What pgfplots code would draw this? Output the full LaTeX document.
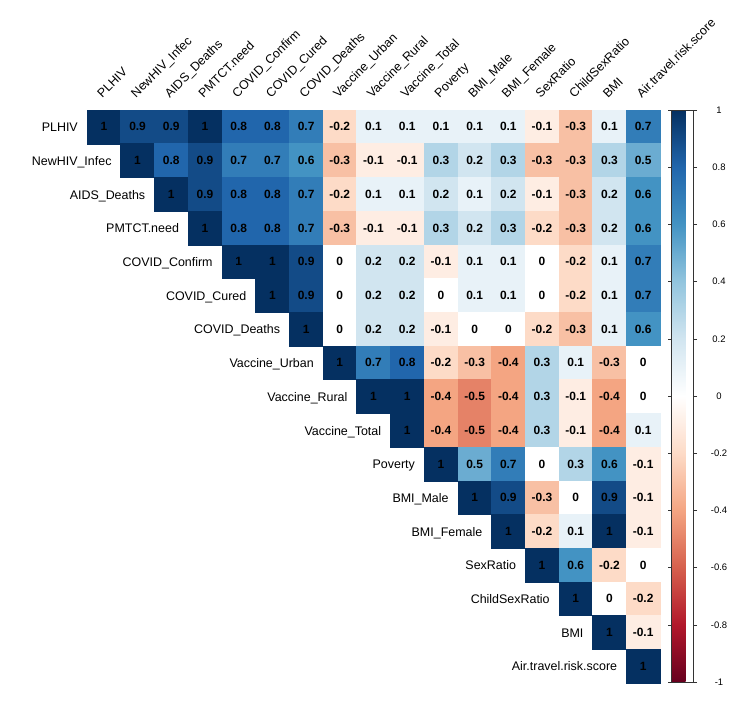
\documentclass[border=0pt]{standalone}
\usepackage{fontspec}
\setmainfont{Liberation Sans}
\usepackage{pgfplots}
\usepackage{pgfplotstable}
\pgfplotsset{compat=1.18}
\definecolor{c1}{HTML}{67001F}
\definecolor{c2}{HTML}{B2182B}
\definecolor{c3}{HTML}{D6604D}
\definecolor{c4}{HTML}{F4A582}
\definecolor{c5}{HTML}{FDDBC7}
\definecolor{c6}{HTML}{FFFFFF}
\definecolor{c7}{HTML}{D1E5F0}
\definecolor{c8}{HTML}{92C5DE}
\definecolor{c9}{HTML}{4393C3}
\definecolor{c10}{HTML}{2166AC}
\definecolor{c11}{HTML}{053061}
\pgfplotstableread{
x y c
0 16 1
1 16 0.9
2 16 0.9
3 16 1
4 16 0.8
5 16 0.8
6 16 0.7
7 16 -0.2
8 16 0.1
9 16 0.1
10 16 0.1
11 16 0.1
12 16 0.1
13 16 -0.1
14 16 -0.3
15 16 0.1
16 16 0.7
1 15 1
2 15 0.8
3 15 0.9
4 15 0.7
5 15 0.7
6 15 0.6
7 15 -0.3
8 15 -0.1
9 15 -0.1
10 15 0.3
11 15 0.2
12 15 0.3
13 15 -0.3
14 15 -0.3
15 15 0.3
16 15 0.5
2 14 1
3 14 0.9
4 14 0.8
5 14 0.8
6 14 0.7
7 14 -0.2
8 14 0.1
9 14 0.1
10 14 0.2
11 14 0.1
12 14 0.2
13 14 -0.1
14 14 -0.3
15 14 0.2
16 14 0.6
3 13 1
4 13 0.8
5 13 0.8
6 13 0.7
7 13 -0.3
8 13 -0.1
9 13 -0.1
10 13 0.3
11 13 0.2
12 13 0.3
13 13 -0.2
14 13 -0.3
15 13 0.2
16 13 0.6
4 12 1
5 12 1
6 12 0.9
7 12 0
8 12 0.2
9 12 0.2
10 12 -0.1
11 12 0.1
12 12 0.1
13 12 0
14 12 -0.2
15 12 0.1
16 12 0.7
5 11 1
6 11 0.9
7 11 0
8 11 0.2
9 11 0.2
10 11 0
11 11 0.1
12 11 0.1
13 11 0
14 11 -0.2
15 11 0.1
16 11 0.7
6 10 1
7 10 0
8 10 0.2
9 10 0.2
10 10 -0.1
11 10 0
12 10 0
13 10 -0.2
14 10 -0.3
15 10 0.1
16 10 0.6
7 9 1
8 9 0.7
9 9 0.8
10 9 -0.2
11 9 -0.3
12 9 -0.4
13 9 0.3
14 9 0.1
15 9 -0.3
16 9 0
8 8 1
9 8 1
10 8 -0.4
11 8 -0.5
12 8 -0.4
13 8 0.3
14 8 -0.1
15 8 -0.4
16 8 0
9 7 1
10 7 -0.4
11 7 -0.5
12 7 -0.4
13 7 0.3
14 7 -0.1
15 7 -0.4
16 7 0.1
10 6 1
11 6 0.5
12 6 0.7
13 6 0
14 6 0.3
15 6 0.6
16 6 -0.1
11 5 1
12 5 0.9
13 5 -0.3
14 5 0
15 5 0.9
16 5 -0.1
12 4 1
13 4 -0.2
14 4 0.1
15 4 1
16 4 -0.1
13 3 1
14 3 0.6
15 3 -0.2
16 3 0
14 2 1
15 2 0
16 2 -0.2
15 1 1
16 1 -0.1
16 0 1
}\corrtab
\begin{document}
\begin{tikzpicture}[lab/.style={font=\fontsize{12.5}{14}\selectfont, inner sep=0pt}]
\useasboundingbox (0bp,0bp) rectangle (743bp,704bp);
\begin{axis}[
  at={(87bp,21bp)}, anchor=south west,
  width=573bp, height=573bp, scale only axis,
  xmin=-0.5, xmax=16.5, ymin=-0.5, ymax=16.5,
  hide axis, clip=false,
  /pgf/number format/assume math mode=true,
  colormap={corr}{color=(c1) color=(c2) color=(c3) color=(c4) color=(c5) color=(c6) color=(c7) color=(c8) color=(c9) color=(c10) color=(c11)},
  point meta min=-1, point meta max=1,
  colorbar,
  colorbar style={
    at={(parent axis.north east)}, anchor=north west, xshift=3bp,
    scale only axis, width=22bp, height=572bp,
    ytick={-1,-0.8,-0.6,-0.4,-0.2,0,0.2,0.4,0.6,0.8,1},
    yticklabels={-1,-0.8,-0.6,-0.4,-0.2,0,0.2,0.4,0.6,0.8,1},
    yticklabel style={font=\fontsize{9.5}{10}\selectfont, anchor=center, xshift=22bp},
    tick align=outside, major tick length=3.5bp,
    tick style={black!80, line width=0.5pt},
    axis line style={black!80, line width=0.6pt},
  },
]
\addplot[scatter, only marks, mark=square*, mark size=16.95pt,
  point meta=explicit,
  scatter/use mapped color={draw=mapped color,fill=mapped color},
] table[x=x, y=y, meta=c] {\corrtab};
\addplot[only marks, mark=none, point meta=explicit,
  nodes near coords, nodes near coords align={center},
  nodes near coords style={font=\fontsize{12}{12}\selectfont\bfseries, text=black},
] table[x=x, y=y, meta=c] {\corrtab};
% row labels
\node[lab, anchor=base east, xshift=-9bp, yshift=-4.8bp] at (axis cs:-0.5,16) {PLHIV};
\node[lab, anchor=base east, xshift=-9bp, yshift=-4.8bp] at (axis cs:0.5,15) {NewHIV\_Infec};
\node[lab, anchor=base east, xshift=-9bp, yshift=-4.8bp] at (axis cs:1.5,14) {AIDS\_Deaths};
\node[lab, anchor=base east, xshift=-9bp, yshift=-4.8bp] at (axis cs:2.5,13) {PMTCT.need};
\node[lab, anchor=base east, xshift=-9bp, yshift=-4.8bp] at (axis cs:3.5,12) {COVID\_Confirm};
\node[lab, anchor=base east, xshift=-9bp, yshift=-4.8bp] at (axis cs:4.5,11) {COVID\_Cured};
\node[lab, anchor=base east, xshift=-9bp, yshift=-4.8bp] at (axis cs:5.5,10) {COVID\_Deaths};
\node[lab, anchor=base east, xshift=-9bp, yshift=-4.8bp] at (axis cs:6.5,9) {Vaccine\_Urban};
\node[lab, anchor=base east, xshift=-9bp, yshift=-4.8bp] at (axis cs:7.5,8) {Vaccine\_Rural};
\node[lab, anchor=base east, xshift=-9bp, yshift=-4.8bp] at (axis cs:8.5,7) {Vaccine\_Total};
\node[lab, anchor=base east, xshift=-9bp, yshift=-4.8bp] at (axis cs:9.5,6) {Poverty};
\node[lab, anchor=base east, xshift=-9bp, yshift=-4.8bp] at (axis cs:10.5,5) {BMI\_Male};
\node[lab, anchor=base east, xshift=-9bp, yshift=-4.8bp] at (axis cs:11.5,4) {BMI\_Female};
\node[lab, anchor=base east, xshift=-9bp, yshift=-4.8bp] at (axis cs:12.5,3) {SexRatio};
\node[lab, anchor=base east, xshift=-9bp, yshift=-4.8bp] at (axis cs:13.5,2) {ChildSexRatio};
\node[lab, anchor=base east, xshift=-9bp, yshift=-4.8bp] at (axis cs:14.5,1) {BMI};
\node[lab, anchor=base east, xshift=-9bp, yshift=-4.8bp] at (axis cs:15.5,0) {Air.travel.risk.score};
% column labels
\node[lab, xshift=-1.5bp, yshift=11.5bp, rotate=45, anchor=base west] at (axis cs:0,16.5) {PLHIV};
\node[lab, xshift=-1.5bp, yshift=11.5bp, rotate=45, anchor=base west] at (axis cs:1,16.5) {NewHIV\_Infec};
\node[lab, xshift=-1.5bp, yshift=11.5bp, rotate=45, anchor=base west] at (axis cs:2,16.5) {AIDS\_Deaths};
\node[lab, xshift=-1.5bp, yshift=11.5bp, rotate=45, anchor=base west] at (axis cs:3,16.5) {PMTCT.need};
\node[lab, xshift=-1.5bp, yshift=11.5bp, rotate=45, anchor=base west] at (axis cs:4,16.5) {COVID\_Confirm};
\node[lab, xshift=-1.5bp, yshift=11.5bp, rotate=45, anchor=base west] at (axis cs:5,16.5) {COVID\_Cured};
\node[lab, xshift=-1.5bp, yshift=11.5bp, rotate=45, anchor=base west] at (axis cs:6,16.5) {COVID\_Deaths};
\node[lab, xshift=-1.5bp, yshift=11.5bp, rotate=45, anchor=base west] at (axis cs:7,16.5) {Vaccine\_Urban};
\node[lab, xshift=-1.5bp, yshift=11.5bp, rotate=45, anchor=base west] at (axis cs:8,16.5) {Vaccine\_Rural};
\node[lab, xshift=-1.5bp, yshift=11.5bp, rotate=45, anchor=base west] at (axis cs:9,16.5) {Vaccine\_Total};
\node[lab, xshift=-1.5bp, yshift=11.5bp, rotate=45, anchor=base west] at (axis cs:10,16.5) {Poverty};
\node[lab, xshift=-1.5bp, yshift=11.5bp, rotate=45, anchor=base west] at (axis cs:11,16.5) {BMI\_Male};
\node[lab, xshift=-1.5bp, yshift=11.5bp, rotate=45, anchor=base west] at (axis cs:12,16.5) {BMI\_Female};
\node[lab, xshift=-1.5bp, yshift=11.5bp, rotate=45, anchor=base west] at (axis cs:13,16.5) {SexRatio};
\node[lab, xshift=-1.5bp, yshift=11.5bp, rotate=45, anchor=base west] at (axis cs:14,16.5) {ChildSexRatio};
\node[lab, xshift=-1.5bp, yshift=11.5bp, rotate=45, anchor=base west] at (axis cs:15,16.5) {BMI};
\node[lab, xshift=-1.5bp, yshift=11.5bp, rotate=45, anchor=base west] at (axis cs:16,16.5) {Air.travel.risk.score};
\end{axis}
\end{tikzpicture}
\end{document}
